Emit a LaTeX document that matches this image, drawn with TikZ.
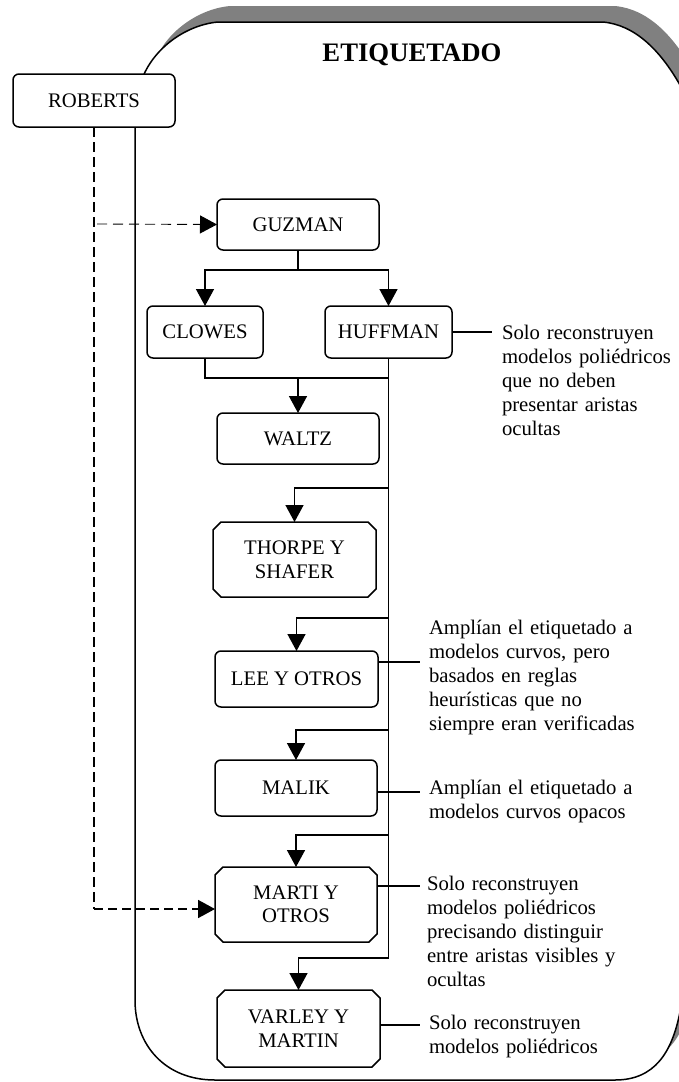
\documentclass[tikz,border=0pt]{standalone}
\usepackage{fontspec}
\setmainfont{Liberation Serif}
\usetikzlibrary{arrows.meta,shapes.misc}
\definecolor{shadowgray}{RGB}{128,128,128}
% outline of the scroll-shaped frame
\newcommand\etqframe{(135,1000) -- (135,120) -- (140,85)
  .. controls (150,50) and (185,25) .. (218,22) -- (603,22)
  .. controls (635,25) and (660,50) .. (680,85) -- (705,130) -- (705,960)
  -- (680,1012) .. controls (672,1052) and (655,1080) .. (615,1080)
  -- (215,1080) .. controls (165,1080) and (135,1045) .. (135,1000) -- cycle}
\begin{document}
\begin{tikzpicture}[x=1pt,y=-1pt,
  every node/.style={inner sep=0pt, outer sep=0pt},
  txt/.style={font=\fontsize{20.7}{23.5}\selectfont},
  rbox/.style={txt, draw, line width=1.5pt, fill=white, rounded corners=6pt, align=center},
  cbox/.style={txt, draw, line width=1.5pt, fill=white, chamfered rectangle,
    chamfered rectangle xsep=4pt, chamfered rectangle ysep=4pt, align=center},
  note/.style={font=\fontsize{20.7}{24}\selectfont, text width=262pt, align=left, anchor=base west},
  conn/.style={line width=1.5pt},
  arr/.style={-{Triangle[length=17pt,width=18pt]}},
  dashthick/.style={line width=2.6pt, dash pattern=on 10pt off 5pt},
  dashmid/.style={line width=1.8pt, dash pattern=on 9pt off 5pt},
  dashthin/.style={line width=0.9pt, dash pattern=on 10pt off 6pt}]
\useasboundingbox (0,0) rectangle (678,1082);

% frame with its shadow
\begin{scope}[shift={(12,-16)}]
  \fill[shadowgray] \etqframe;
\end{scope}
\draw[line width=1.5pt, fill=white] \etqframe;

\node[font=\bfseries\fontsize{26.7}{30}\selectfont] (title) at (412,55) {ETIQUETADO};

% boxes
\node[rbox, minimum width=162pt, minimum height=53pt] (roberts) at (94,100.5) {ROBERTS};
\node[rbox, minimum width=162pt, minimum height=51pt] (guzman) at (298,224.5) {GUZMAN};
\node[rbox, minimum width=116pt, minimum height=52pt] (clowes) at (205,332) {CLOWES};
\node[rbox, minimum width=127pt, minimum height=52pt] (huffman) at (388.5,332) {HUFFMAN};
\node[rbox, minimum width=162pt, minimum height=51pt] (waltz) at (298,438.5) {WALTZ};
\node[cbox, minimum width=163pt, minimum height=75pt] (thorpe) at (294.5,559.5) {THORPE Y\\SHAFER};
\node[rbox, minimum width=163pt, minimum height=56pt] (lee) at (296.5,679) {LEE Y OTROS};
\node[rbox, minimum width=162pt, minimum height=56pt] (malik) at (296,788) {MALIK};
\node[cbox, minimum width=162pt, minimum height=75pt] (marti) at (296,904.5) {MARTI Y\\OTROS};
\node[cbox, minimum width=163pt, minimum height=77pt] (varley) at (298.5,1028.5) {VARLEY Y\\MARTIN};

% GUZMAN splits into CLOWES and HUFFMAN
\coordinate (split) at (298,270);
\draw[conn] (guzman.south) -- (split);
\draw[conn, arr] (split) -| (clowes.north);
\draw[conn, arr] (split) -| (huffman.north);

% CLOWES and HUFFMAN merge into WALTZ
\coordinate (merge) at (298,378);
\draw[conn] (clowes.south) |- (merge) -- (merge -| huffman.south);
\draw[conn, arr] (merge) -- (waltz.north);

% trunk from HUFFMAN with its branches
\coordinate (trunkend) at (388.5,958);
\draw[conn] (huffman.south) -- (trunkend);
\coordinate (bthorpe) at (388.5,488);
\coordinate (blee) at (388.5,618);
\coordinate (bmalik) at (388.5,730);
\coordinate (bmarti) at (388.5,835);
\draw[conn, arr] (bthorpe) -| (thorpe.north);
\draw[conn, arr] (blee) -| (lee.north);
\draw[conn, arr] (bmalik) -| (malik.north);
\draw[conn, arr] (bmarti) -| (marti.north);
\draw[conn, arr] (trunkend) -| (varley.north);

% dashed links from ROBERTS
\coordinate (dcorner) at (94,909);
\coordinate (gstart) at (97,224);
\draw[dashthick] (roberts.south) -- (dcorner);
\draw[dashmid, arr] (dcorner) -- (marti.west |- dcorner);
\draw[dashthin, arr] (gstart) -- (guzman.west);

% annotations
\coordinate (lhuff) at (492,332);
\coordinate (llee) at (420,662);
\coordinate (lmalik) at (420,792);
\coordinate (lmarti) at (420,886);
\coordinate (lvarley) at (420,1025);
\draw[conn] (huffman.east |- lhuff) -- (lhuff);
\draw[conn] (lee.east |- llee) -- (llee);
\draw[conn] (malik.east |- lmalik) -- (lmalik);
\draw[conn] (marti.east |- lmarti) -- (lmarti);
\draw[conn] (varley.east |- lvarley) -- (lvarley);

\node[note] (nhuff) at (502,339) {Solo reconstruyen\\modelos poliédricos\\que no deben\\presentar aristas\\ocultas};
\node[note] (nlee) at (429,634) {Amplían el etiquetado a\\modelos curvos, pero\\basados en reglas\\heurísticas que no\\siempre eran verificadas};
\node[note] (nmalik) at (429,794) {Amplían el etiquetado a\\modelos curvos opacos};
\node[note] (nmarti) at (427,890) {Solo reconstruyen\\modelos poliédricos\\precisando distinguir\\entre aristas visibles y\\ocultas};
\node[note] (nvarley) at (429,1029) {Solo reconstruyen\\modelos poliédricos};
\end{tikzpicture}
\end{document}
